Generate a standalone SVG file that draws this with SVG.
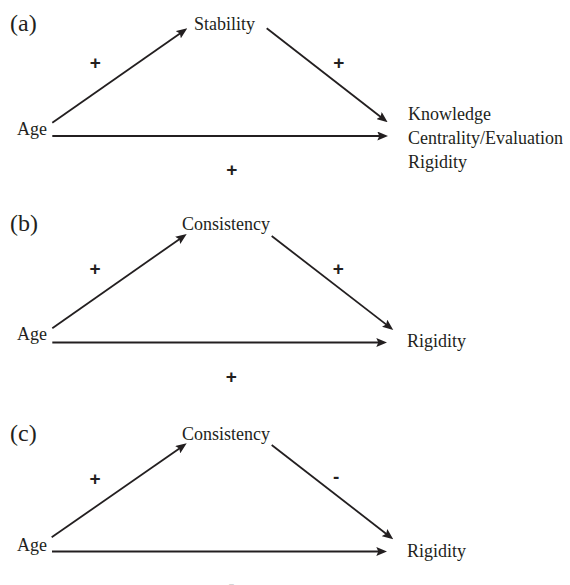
<svg xmlns="http://www.w3.org/2000/svg" width="570" height="585" viewBox="0 0 570 585">
<style>
.t{font-family:"Liberation Serif","Times New Roman",serif;font-size:18px;fill:#231f20}
.p{font-family:"Liberation Serif","Times New Roman",serif;font-size:24px;fill:#231f20}
.s{font-family:"Liberation Sans",Arial,sans-serif;font-size:19px;font-weight:bold;fill:#231f20;text-anchor:middle}
.c line{stroke:#231f20;stroke-width:1.8;marker-end:url(#ah)}
</style>
<defs>
<marker id="ah" viewBox="0 0 11 9" markerWidth="11" markerHeight="9" refX="6" refY="4.5" orient="auto" markerUnits="userSpaceOnUse">
<path d="M0,0 L11,4.5 L0,9 L2,4.5 z" fill="#231f20"/>
</marker>
</defs>
<rect width="570" height="585" fill="#fff"/>
<g id="labels">
<text class="p" x="10" y="31">(a)</text>
<text class="p" x="10" y="231">(b)</text>
<text class="p" x="10" y="441">(c)</text>
</g>
<g id="a-age"><text class="t" x="17" y="135">Age</text></g>
<g id="a-stability"><text class="t" x="194" y="30">Stability</text></g>
<g id="a-outcome">
<text class="t" x="408" y="120">Knowledge</text>
<text class="t" x="408" y="144">Centrality/Evaluation</text>
<text class="t" x="408" y="168">Rigidity</text>
</g>
<g id="b-age"><text class="t" x="17" y="340">Age</text></g>
<g id="b-consistency"><text class="t" x="182" y="229.5">Consistency</text></g>
<g id="b-rigidity"><text class="t" x="407" y="347">Rigidity</text></g>
<g id="c-age"><text class="t" x="17" y="551">Age</text></g>
<g id="c-consistency"><text class="t" x="182" y="439.5">Consistency</text></g>
<g id="c-rigidity"><text class="t" x="407" y="556.5">Rigidity</text></g>
<g id="connectors" class="c">
<line x1="52.3" y1="122.7" x2="183.2" y2="31.2"/>
<line x1="266.7" y1="28.3" x2="383.7" y2="119.2"/>
<line x1="52.3" y1="136" x2="383.3" y2="136"/>
<line x1="52.3" y1="328.3" x2="182.6" y2="236.9"/>
<line x1="271.7" y1="236" x2="389.3" y2="326.9"/>
<line x1="52.3" y1="342.5" x2="382.3" y2="342.5"/>
<line x1="51.7" y1="537.3" x2="182.6" y2="446.2"/>
<line x1="271.7" y1="445" x2="389.3" y2="536.2"/>
<line x1="52" y1="551.5" x2="382.3" y2="551.5"/>
</g>
<g id="signs">
<text class="s" x="95.3" y="68.7">+</text>
<text class="s" x="338.7" y="68.7">+</text>
<text class="s" x="231.7" y="176.2">+</text>
<text class="s" x="95" y="274.7">+</text>
<text class="s" x="338.3" y="274.7">+</text>
<text class="s" x="231.3" y="382.7">+</text>
<text class="s" x="95" y="485.4">+</text>
<text class="s" x="336.2" y="483.4">-</text>
<text class="s" x="231.5" y="590.5">-</text>
</g>
</svg>
